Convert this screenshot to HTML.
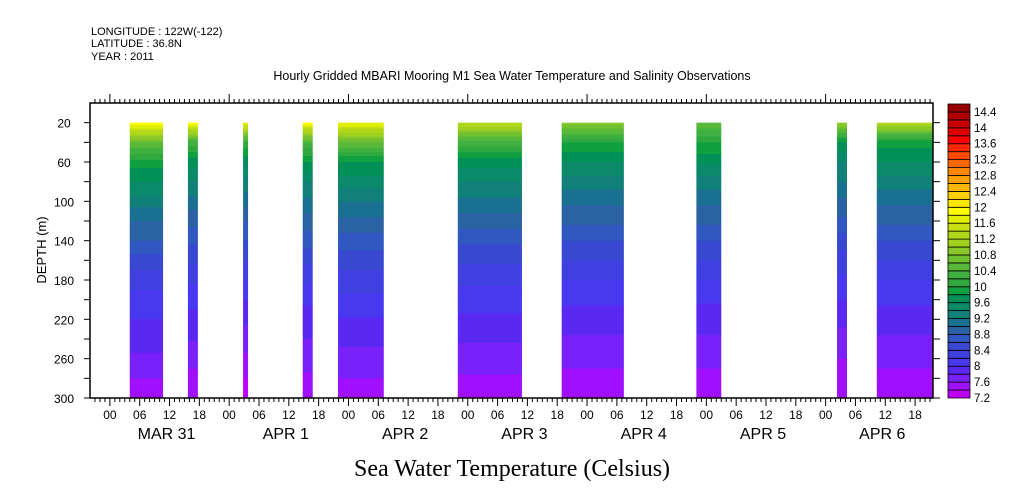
<!DOCTYPE html>
<html><head><meta charset="utf-8"><style>
body{margin:0;background:#fff;}
svg{display:block;font-family:"Liberation Sans",sans-serif;}
</style></head><body>
<svg id="chart" width="1009" height="504" xmlns="http://www.w3.org/2000/svg">
<text x="91" y="35" font-size="11">LONGITUDE : 122W(-122)</text>
<text x="91" y="47" font-size="11">LATITUDE : 36.8N</text>
<text x="91" y="60" font-size="11">YEAR : 2011</text>
<text x="512" y="80" font-size="12.5" text-anchor="middle">Hourly Gridded MBARI Mooring M1 Sea Water Temperature and Salinity Observations</text>
<text x="512" y="476" font-size="24" text-anchor="middle" font-family="Liberation Serif, serif">Sea Water Temperature (Celsius)</text>
<text transform="translate(46,250) rotate(-90)" font-size="13" text-anchor="middle">DEPTH (m)</text>
<g id="marks"></g><g id="axes"></g><g id="cbar"></g>
</svg>
<script>
const segStart=[4,15.7,26.8,38.8,45.9,70,90.9,118,146.3,154.3];
const segEnd=[10.7,17.7,27.8,40.8,55.1,82.9,103.4,123,148.3,165.6];
const depths=[20,40,60,80,100,120,140,160,180,200,220,240,260,280,300];
const prof0=[12.0,10.6,9.9,9.6,9.3,9.0,8.8,8.5,8.3,8.1,8.0,7.9,7.75,7.6,7.45];
const prof1=[11.9,10.3,9.7,9.4,9.1,8.85,8.65,8.45,8.25,8.05,7.95,7.82,7.65,7.55,7.45];
const prof2=[11.8,10.2,9.6,9.3,9.1,8.8,8.6,8.4,8.2,8.0,7.85,7.7,7.55,7.4,7.35];
const prof3=[11.9,10.4,9.8,9.4,9.15,8.9,8.7,8.45,8.25,8.05,7.9,7.8,7.7,7.55,7.45];
const prof4=[11.8,10.6,9.8,9.5,9.2,8.95,8.7,8.5,8.3,8.15,7.98,7.85,7.72,7.6,7.5];
const prof5=[11.4,10.3,9.7,9.4,9.15,8.9,8.65,8.45,8.25,8.1,7.95,7.82,7.7,7.58,7.5];
const prof6=[10.9,10.0,9.6,9.3,9.05,8.85,8.6,8.4,8.2,8.05,7.9,7.78,7.65,7.55,7.5];
const prof7=[10.6,10.0,9.65,9.3,9.05,8.85,8.6,8.4,8.2,8.02,7.9,7.78,7.65,7.55,7.45];
const prof8=[11.0,9.8,9.4,9.2,8.95,8.75,8.5,8.3,8.15,8.0,7.85,7.72,7.6,7.5,7.45];
const prof9=[11.3,9.9,9.6,9.3,9.05,8.85,8.6,8.4,8.2,8.05,7.9,7.78,7.65,7.55,7.5];
const profiles=[prof0,prof1,prof2,prof3,prof4,prof5,prof6,prof7,prof8,prof9];
const levelColors=["#c000ff","#a010ff","#7a20f8","#5a28f0","#4838f0","#4040e0","#3848d0","#3058c0","#2a62a4","#1a7090","#108078","#0a8a68","#009058","#10a040","#30a840","#40b040","#58b838","#70c030","#88c828","#a0d020","#b0d818","#c8e010","#e0f000","#ffff00","#ffe800","#ffd000","#ffb800","#ffa000","#ff8800","#ff6800","#ff4800","#ff2800","#ff0000","#e00000","#c80000","#b00000","#980000"];
const cbarLabels=["7.2","7.6","8","8.4","8.8","9.2","9.6","10","10.4","10.8","11.2","11.6","12","12.4","12.8","13.2","13.6","14","14.4"];
const yTicks=[20,60,100,140,180,220,260,300];
const hourLabels=["00","06","12","18"];
const dayLabels=["MAR 31","APR  1","APR  2","APR  3","APR  4","APR  5","APR  6"];
const NS="http://www.w3.org/2000/svg";
const L=90,R=933,T=103,B=398,H0=-4,H1=165.6;
const x=h=>L+(h-H0)/(H1-H0)*(R-L);
const y=d=>T+d/300*(B-T);
function mk(tag,at,parent){const e=document.createElementNS(NS,tag);for(const k in at)e.setAttribute(k,at[k]);parent.appendChild(e);return e;}
const marks=document.getElementById('marks'),axes=document.getElementById('axes'),cb=document.getElementById('cbar');
function colorFor(t){let i=Math.floor((t-7.2)/0.2);i=Math.max(0,Math.min(levelColors.length-1,i));return levelColors[i];}
function interp(p,d){for(let i=0;i<depths.length-1;i++){if(d<=depths[i+1]){const f=(d-depths[i])/(depths[i+1]-depths[i]);return p[i]+f*(p[i+1]-p[i]);}}return p[p.length-1];}
segStart.forEach((s,si)=>{
  const g=mk('g',{},marks);
  
  
  const x0=x(s),x1=x(segEnd[si]);
  for(let d=20;d<300;d+=2){
    const r=mk('rect',{x:x0,y:y(d),width:x1-x0,height:y(d+2)-y(d)+0.5,fill:colorFor(interp(profiles[si],d+1))},g);
    
    
  }
});
const frame=mk('rect',{x:L,y:T,width:R-L,height:B-T,fill:'none',stroke:'#000','stroke-width':1.5},axes);


for(let d=20;d<=300;d+=20){
  mk('line',{x1:L-6,x2:L,y1:y(d),y2:y(d),stroke:'#000'},axes);
  mk('line',{x1:R,x2:R+7,y1:y(d),y2:y(d),stroke:'#000'},axes);
}
yTicks.forEach(v=>{const t=mk('text',{x:L-26,y:y(v)+5,'font-size':12,'text-anchor':'middle'},axes);t.textContent=v;
 
 });
for(let h=-3;h<=165;h++){
  const xx=x(h),maj6=((h%6)+6)%6===0,maj24=((h%24)+24)%24===0;
  mk('line',{x1:xx,x2:xx,y1:B,y2:B+(maj6?8:4),stroke:'#000'},axes);
  mk('line',{x1:xx,x2:xx,y1:T,y2:T-(maj24?9:4),stroke:'#000'},axes);
  if(maj6){const t=mk('text',{x:xx,y:419,'font-size':12,'text-anchor':'middle'},axes);t.textContent=hourLabels[(((h%24)+24)%24)/6];
   
   }
}
dayLabels.forEach((lab,i)=>{const t=mk('text',{x:x(i*24+12)-3,y:439,'font-size':16,'text-anchor':'middle','xml:space':'preserve'},axes);t.textContent=lab;
 
 });
const cx=948,cw=22,cB=398,bh=(398-104)/levelColors.length;
levelColors.forEach((c,i)=>{const r=mk('rect',{x:cx,y:cB-(i+1)*bh,width:cw,height:bh,fill:c,stroke:'#000','stroke-width':0.8},cb);
 
 });
cbarLabels.forEach((lab,i)=>{const t=mk('text',{x:cx+cw+4,y:cB-i*2*bh+4,'font-size':11.5},cb);t.textContent=lab;
 
 });
</script>
</body></html>
